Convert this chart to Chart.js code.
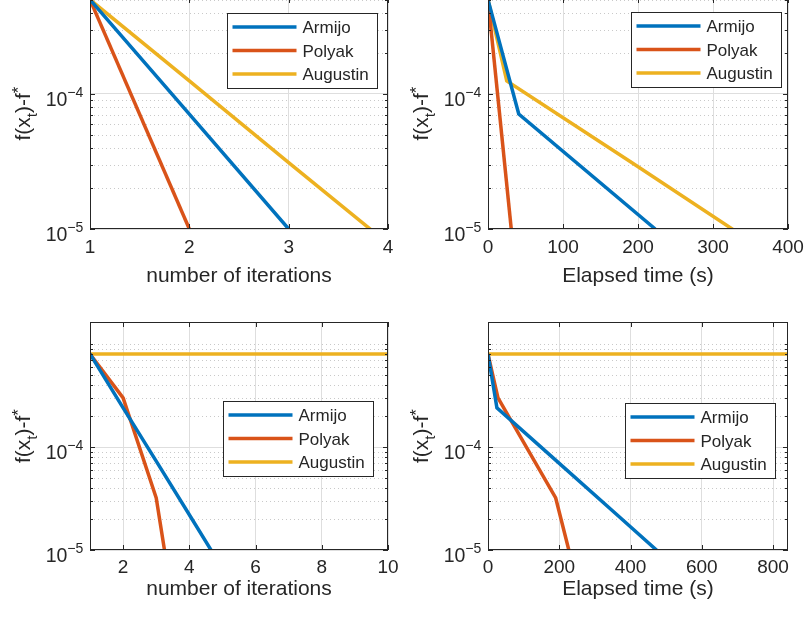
<!DOCTYPE html>
<html>
<head>
<meta charset="utf-8">
<title>f(x_t)-f* convergence</title>
<script src="https://cdn.jsdelivr.net/npm/chart.js@4.4.1/dist/chart.umd.min.js"></script>
<style>
  html, body { margin: 0; padding: 0; background: #fff; }
  body { width: 804px; height: 619px; position: relative; overflow: hidden; }
  canvas { position: absolute; }
</style>
</head>
<body>
<canvas id="tl" width="400" height="310" style="left:0;top:-10px"></canvas>
<canvas id="tr" width="404" height="310" style="left:400px;top:-10px"></canvas>
<canvas id="bl" width="400" height="319" style="left:0;top:300px"></canvas>
<canvas id="br" width="404" height="319" style="left:400px;top:300px"></canvas>
<script>
const names = ['Armijo', 'Polyak', 'Augustin'];
const colors = ['#0072BD', '#D95319', '#EDB120'];

// top row: f(x_t)-f* per iteration and per elapsed time
const iterTop = [1, 2, 3, 4];
const armijoTop = [5e-4, 7.1e-5, 1e-5];
const polyakTop = [5e-4, 1e-5];
const augustinTop = [5e-4, 1.25e-4, 3.1e-5, 7.8e-6];
const armijoTimeTop = [0, 41, 223];
const polyakTimeTop = [0, 31];
const augustinTimeTop = [0, 25, 192, 355];

// bottom row
const iterBottom = [1, 2, 3, 4, 5, 6, 7, 8, 9, 10];
const armijoBottom = [8e-4, 2.4e-4, 7.3e-5, 2.2e-5, 6.6e-6];
const polyakBottom = [8e-4, 3e-4, 3.2e-5, 3e-7];
const augustinBottom = [8e-4, 8e-4, 8e-4, 8e-4, 8e-4, 8e-4, 8e-4, 8e-4, 8e-4, 8e-4];
const armijoTimeBottom = [0, 25, 193, 362, 531];
const polyakTimeBottom = [0, 28, 190, 338];
const augustinTimeBottom = [0, 842];

// tick labels
const xTicksIterTop = [1, 2, 3, 4];
const xTicksTimeTop = [0, 100, 200, 300, 400];
const xTicksIterBottom = [2, 4, 6, 8, 10];
const xTicksTimeBottom = [0, 200, 400, 600, 800];
const yTicks = [1e-5, 1e-4];

const FONT = '"Liberation Sans", Arial, Helvetica, sans-serif';
const INK = '#262626';
Chart.defaults.font.family = FONT;
Chart.defaults.color = INK;

function pair(xs, ys) {
  const n = Math.min(xs.length, ys.length);
  return ys.slice(0, n).map((y, i) => ({x: xs[i], y: y}));
}
function isMajor(v) {
  return yTicks.some(t => Math.abs(t - v) / t < 1e-6);
}

// matlab-like axes: dotted minor grid, box, inner ticks, 10^n labels, y label, legend
const matlabAxes = {
  id: 'matlabAxes',
  beforeDatasetsDraw(chart) {
    const {ctx, chartArea: a, scales: {y}} = chart;
    ctx.save();
    ctx.strokeStyle = '#c9c9c9';
    ctx.lineWidth = 1;
    ctx.setLineDash([1, 3]);
    y.ticks.forEach(t => {
      if (isMajor(t.value)) return;
      const py = Math.round(y.getPixelForValue(t.value)) + 0.5;
      ctx.beginPath(); ctx.moveTo(a.left, py); ctx.lineTo(a.right, py); ctx.stroke();
    });
    ctx.restore();
  },
  afterDatasetsDraw(chart, args, opts) {
    const {ctx, chartArea: a, scales: {x, y}} = chart;
    ctx.save();
    ctx.strokeStyle = INK;
    ctx.lineWidth = 1;
    // inner ticks
    ctx.beginPath();
    x.ticks.forEach(t => {
      const px = Math.round(x.getPixelForValue(t.value)) + 0.5;
      ctx.moveTo(px, a.bottom); ctx.lineTo(px, a.bottom - 5);
      ctx.moveTo(px, a.top); ctx.lineTo(px, a.top + 5);
    });
    y.ticks.forEach(t => {
      const len = isMajor(t.value) ? 5 : 3;
      const py = Math.round(y.getPixelForValue(t.value)) + 0.5;
      ctx.moveTo(a.left, py); ctx.lineTo(a.left + len, py);
      ctx.moveTo(a.right, py); ctx.lineTo(a.right - len, py);
    });
    ctx.stroke();
    // box
    const l = Math.round(a.left) + 0.5, r = Math.round(a.right) - 0.5;
    const tp = Math.round(a.top) + 0.5, b = Math.round(a.bottom) - 0.5;
    ctx.strokeRect(l, tp, r - l, b - tp);

    // y tick labels 10^n
    ctx.fillStyle = INK;
    ctx.textBaseline = 'alphabetic';
    yTicks.forEach(v => {
      const py = y.getPixelForValue(v);
      const sup = '\u2212' + Math.abs(Math.round(Math.log10(v)));
      ctx.font = '14px ' + FONT;
      const ws = ctx.measureText(sup).width;
      ctx.font = '19.5px ' + FONT;
      const wb = ctx.measureText('10').width;
      const xr = a.left - 6.7;
      ctx.fillText('10', xr - ws - wb, py + 12);
      ctx.font = '14px ' + FONT;
      ctx.fillText(sup, xr - ws, py + 2.7);
    });

    // y axis label f(x_t)-f^*
    const parts = [['f(x', '21px ', 0], ['t', '15px ', 7], [')-f', '21px ', 0], ['*', '17px ', -6]];
    let total = 0;
    parts.forEach(p => { ctx.font = p[1] + FONT; p.w = ctx.measureText(p[0]).width; total += p.w; });
    ctx.translate(a.left - 60.5, (a.top + a.bottom) / 2);
    ctx.rotate(-Math.PI / 2);
    let cx = -total / 2;
    parts.forEach(p => { ctx.font = p[1] + FONT; ctx.fillText(p[0], cx, p[2]); cx += p.w; });
    ctx.restore();

    // legend box
    const lg = opts.legend;
    const x0 = Math.round(a.left + lg.left) + 0.5, y0 = Math.round(a.top + lg.top) + 0.5;
    ctx.save();
    ctx.fillStyle = '#fff';
    ctx.fillRect(x0, y0, 150, 75);
    ctx.strokeStyle = INK;
    ctx.lineWidth = 1;
    ctx.strokeRect(x0, y0, 150, 75);
    const rows = [13.5, 37, 60.5];
    chart.data.datasets.forEach((ds, i) => {
      const yy = y0 + rows[i];
      ctx.strokeStyle = ds.borderColor;
      ctx.lineWidth = 3.5;
      ctx.beginPath(); ctx.moveTo(x0 + 5, yy); ctx.lineTo(x0 + 69, yy); ctx.stroke();
      ctx.fillStyle = INK;
      ctx.font = '17px ' + FONT;
      ctx.textBaseline = 'alphabetic';
      ctx.fillText(ds.label, x0 + 75, yy + 6);
    });
    ctx.restore();
  }
};

function makePanel(p) {
  const datasets = p.series.map((s, i) => ({
    label: names[i],
    data: pair(s[0], s[1]),
    borderColor: colors[i],
    backgroundColor: colors[i],
    borderWidth: 3.5,
    pointRadius: 0,
    tension: 0,
    fill: false,
    clip: 0
  }));
  return new Chart(document.getElementById(p.id), {
    type: 'line',
    data: {datasets: datasets},
    plugins: [matlabAxes],
    options: {
      responsive: false,
      animation: false,
      layout: {padding: {top: p.padTop, right: p.padRight, left: 0, bottom: 0}},
      plugins: {
        legend: {display: false},
        tooltip: {enabled: false},
        matlabAxes: {legend: p.legend}
      },
      scales: {
        x: {
          type: 'linear',
          min: p.xMin,
          max: p.xMax,
          afterBuildTicks: s => { s.ticks = p.xTicks.map(v => ({value: v})); },
          afterFit: s => { s.height = p.xHeight; s.paddingLeft = 0; s.paddingRight = 0; },
          ticks: {
            autoSkip: false, maxRotation: 0, padding: p.tickPad,
            font: {size: 19}, color: INK,
            callback: v => String(v)
          },
          grid: {color: '#dedede', lineWidth: 1, drawTicks: false},
          border: {display: false},
          title: {display: true, text: p.xTitle, font: {size: 21}, color: INK,
                  padding: {top: 0, bottom: p.titlePad}}
        },
        y: {
          type: 'logarithmic',
          min: 1e-5,
          max: p.yMax,
          afterBuildTicks: s => {
            const t = [];
            for (let e = Math.floor(Math.log10(s.min)); e <= Math.ceil(Math.log10(s.max)); e++) {
              for (let m = 1; m < 10; m++) {
                const v = m * Math.pow(10, e);
                if (v >= s.min * 0.9999 && v <= s.max * 1.0001) t.push({value: v});
              }
            }
            s.ticks = t;
          },
          afterFit: s => { s.width = p.yWidth; },
          ticks: {display: false},
          grid: {
            color: c => (c.tick && isMajor(c.tick.value)) ? '#dedede' : 'rgba(0,0,0,0)',
            lineWidth: 1, drawTicks: false
          },
          border: {display: false}
        }
      }
    }
  });
}

makePanel({
  id: 'tl', xTitle: 'number of iterations', xMin: 1, xMax: 4, xTicks: xTicksIterTop, yMax: 5.14e-4,
  series: [[iterTop, armijoTop], [iterTop, polyakTop], [iterTop, augustinTop]],
  padTop: 8, padRight: 12, yWidth: 90, xHeight: 71, tickPad: 7, titlePad: 11,
  legend: {left: 136.7, top: 14.7}
});
makePanel({
  id: 'tr', xTitle: 'Elapsed time (s)', xMin: 0, xMax: 400, xTicks: xTicksTimeTop, yMax: 5.14e-4,
  series: [[armijoTimeTop, armijoTop], [polyakTimeTop, polyakTop], [augustinTimeTop, augustinTop]],
  padTop: 8, padRight: 16, yWidth: 88, xHeight: 71, tickPad: 7, titlePad: 11,
  legend: {left: 143, top: 14.3}
});
makePanel({
  id: 'bl', xTitle: 'number of iterations', xMin: 1, xMax: 10, xTicks: xTicksIterBottom, yMax: 1.637e-3,
  series: [[iterBottom, armijoBottom], [iterBottom, polyakBottom], [iterBottom, augustinBottom]],
  padTop: 22, padRight: 12, yWidth: 90, xHeight: 69, tickPad: 6, titlePad: 17,
  legend: {left: 133.3, top: 78.7}
});
makePanel({
  id: 'br', xTitle: 'Elapsed time (s)', xMin: 0, xMax: 842, xTicks: xTicksTimeBottom, yMax: 1.637e-3,
  series: [[armijoTimeBottom, armijoBottom], [polyakTimeBottom, polyakBottom], [augustinTimeBottom, augustinBottom]],
  padTop: 22, padRight: 16, yWidth: 88, xHeight: 69, tickPad: 6, titlePad: 17,
  legend: {left: 137, top: 80.7}
});
</script>
</body>
</html>
